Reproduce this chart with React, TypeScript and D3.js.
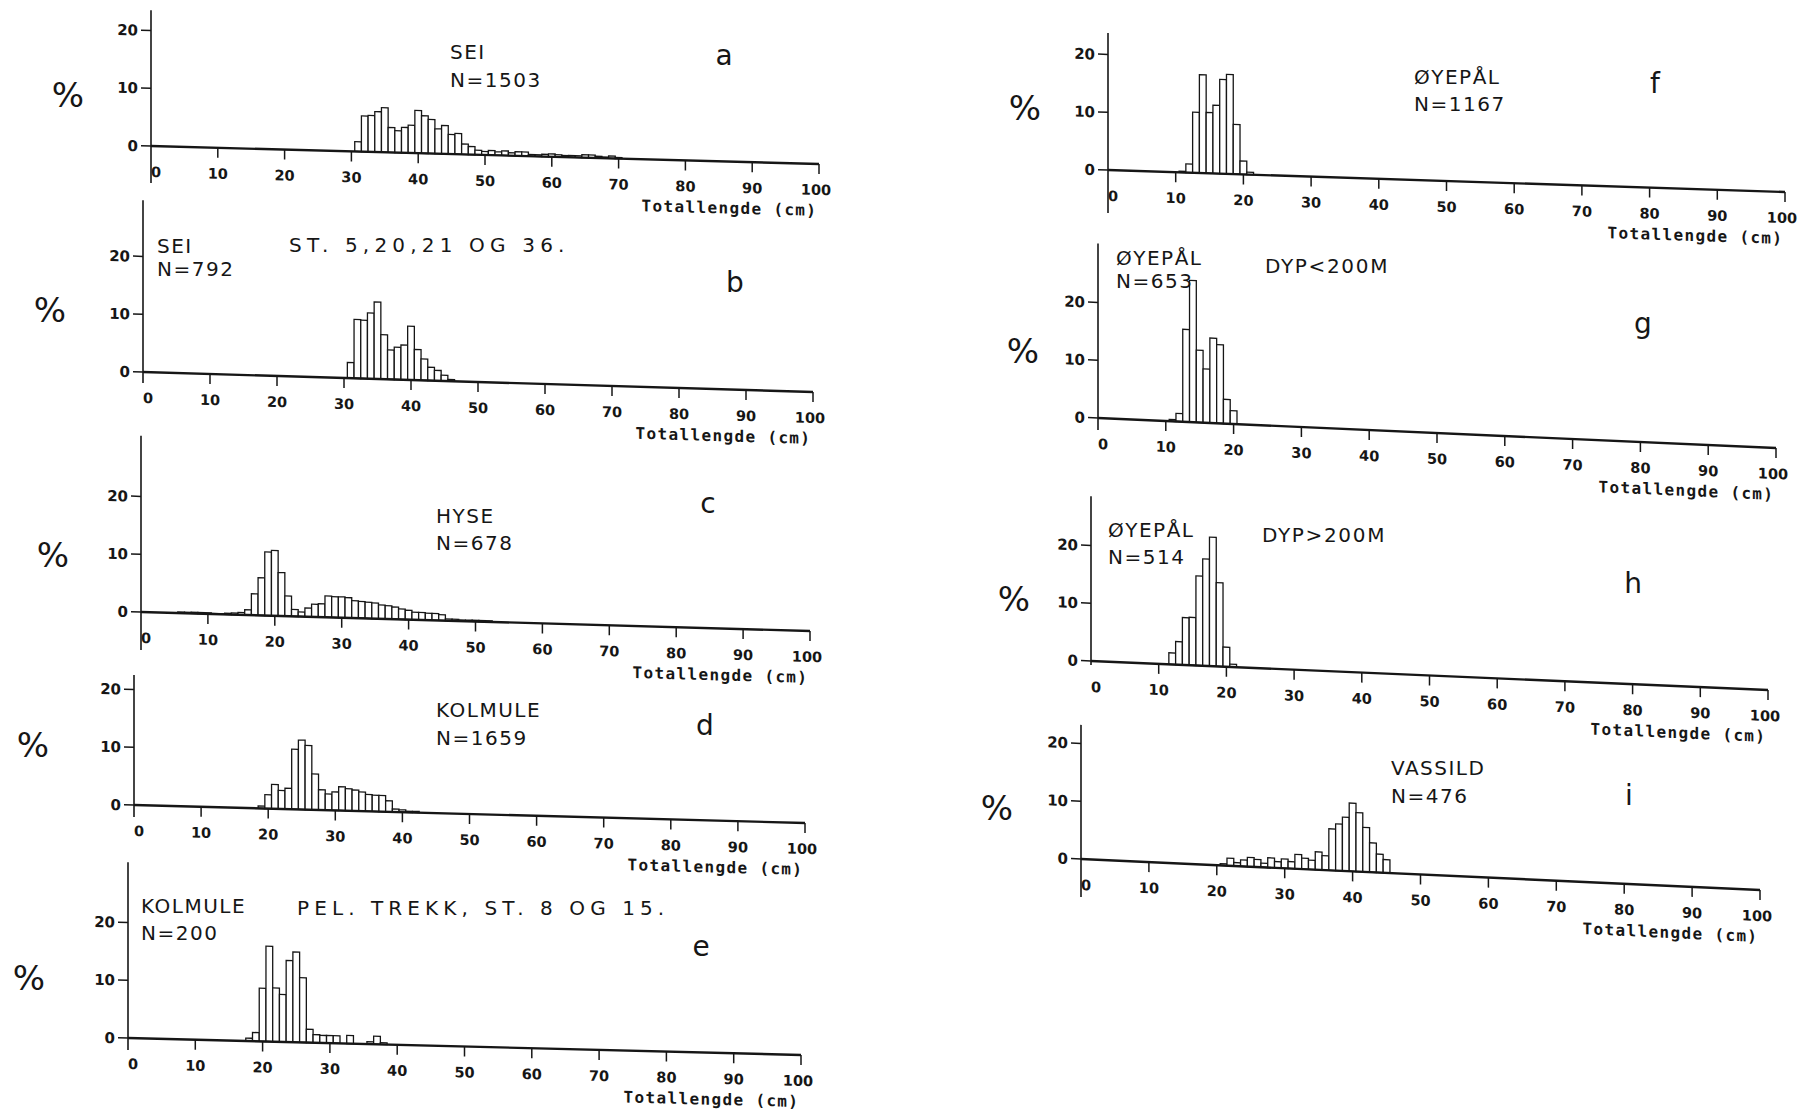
import React from 'react';
import * as d3 from 'd3';

// Length distributions: percent per 1 cm length group, first group given by *Start (cm)
const seiStart = 31;
const seiPct = [1.7, 6.2, 6.3, 7.0, 7.7, 4.3, 3.8, 4.4, 4.8, 7.4, 6.5, 5.9, 4.3, 4.9, 3.4, 3.6, 1.8, 1.4, 0.8, 0.6,
  0.8, 0.6, 0.8, 0.5, 0.7, 0.7, 0.3, 0.3, 0.4, 0.5, 0.4, 0.3, 0.3, 0.3, 0.5, 0.5, 0.3, 0.2, 0.4, 0.2];

const seiStStart = 31;
const seiStPct = [2.7, 10.2, 10.1, 11.4, 13.3, 7.7, 5.1, 5.6, 6.0, 9.3, 5.3, 3.7, 2.3, 1.8, 1.0, 0.3];

const hyseStart = 6;
const hysePct = [0.2, 0.2, 0.2, 0.2, 0.2, 0.1, 0.1, 0.2, 0.3, 0.4, 0.9, 3.7, 6.5, 11.0, 11.3, 7.5, 3.5, 1.2, 0.8, 1.5,
  2.2, 2.3, 3.7, 3.6, 3.6, 3.5, 3.0, 2.9, 2.8, 2.7, 2.4, 2.3, 2.1, 1.8, 1.6, 1.3, 1.3, 1.2, 1.2, 1.0,
  0.3, 0.3, 0.2, 0.2, 0.2, 0.2, 0.2];

const kolmuleStart = 19;
const kolmulePct = [0.4, 2.4, 4.2, 3.2, 3.6, 10.4, 12.0, 11.1, 6.2, 3.5, 2.8, 3.2, 4.1, 3.8, 3.6, 3.3, 2.9, 2.8, 2.8, 1.9,
  0.5, 0.4, 0.2, 0.2];

const kolmulePelStart = 18;
const kolmulePelPct = [0.5, 1.5, 9.2, 16.5, 9.3, 8.2, 14.1, 15.6, 11.2, 2.3, 1.4, 1.3, 1.3, 1.3, 0, 1.4, 0, 0, 0.4, 1.4, 0.3];

const oyepalStart = 11;
const oyepalPct = [0.2, 1.5, 10.5, 17.0, 10.5, 11.8, 16.3, 17.2, 8.6, 2.3, 0.4];

const oyepalShallowStart = 11;
const oyepalShallowPct = [0.3, 1.4, 16.0, 24.5, 12.5, 9.3, 14.7, 13.6, 4.2, 2.3];

const oyepalDeepStart = 12;
const oyepalDeepPct = [2.0, 4.0, 8.2, 8.3, 15.5, 18.5, 22.3, 14.5, 3.4, 0.5];

const vassildStart = 21;
const vassildPct = [0.3, 1.3, 0.6, 1.1, 1.6, 1.3, 0.7, 1.7, 1.1, 1.6, 1.2, 2.5, 1.9, 1.6, 3.1, 2.5, 7.2, 8.1, 9.3, 11.8,
  10.2, 7.7, 5.1, 3.2, 2.3];

const xTicks = [0, 10, 20, 30, 40, 50, 60, 70, 80, 90, 100];
const yTicks = [0, 10, 20];
const xTitle = 'Totallengde (cm)';

// page layout of the scanned sheet (the plotter paper ran skewed, so each x axis drops to the right)
const panels = [
  { key: 'a', start: seiStart, pct: seiPct, x0: 151, x100: 819, y0: 146, drop: 18, topPct: 23.5, below: 37,
    title: ['SEI', 'N=1503'], tx: 450, ty: [59, 87], note: '', nx: 0, ny: 0, letter: 'a', lx: 724, ly: 65, px: 68, py: 107 },
  { key: 'b', start: seiStStart, pct: seiStPct, x0: 143, x100: 813, y0: 372, drop: 20, topPct: 29.7, below: 11,
    title: ['SEI', 'N=792'], tx: 157, ty: [253, 276], note: 'ST. 5,20,21 OG 36.', nx: 289, ny: 252, letter: 'b', lx: 735, ly: 292, px: 50, py: 322 },
  { key: 'c', start: hyseStart, pct: hysePct, x0: 141, x100: 810, y0: 612, drop: 19, topPct: 30.5, below: 38,
    title: ['HYSE', 'N=678'], tx: 436, ty: [523, 550], note: '', nx: 0, ny: 0, letter: 'c', lx: 708, ly: 513, px: 53, py: 567 },
  { key: 'd', start: kolmuleStart, pct: kolmulePct, x0: 134, x100: 805, y0: 805, drop: 18, topPct: 22.5, below: 12,
    title: ['KOLMULE', 'N=1659'], tx: 436, ty: [717, 745], note: '', nx: 0, ny: 0, letter: 'd', lx: 705, ly: 735, px: 33, py: 757 },
  { key: 'e', start: kolmulePelStart, pct: kolmulePelPct, x0: 128, x100: 801, y0: 1038, drop: 17, topPct: 30.4, below: 12,
    title: ['KOLMULE', 'N=200'], tx: 141, ty: [913, 940], note: 'PEL. TREKK, ST. 8 OG 15.', nx: 297, ny: 915, letter: 'e', lx: 701, ly: 956, px: 29, py: 990 },
  { key: 'f', start: oyepalStart, pct: oyepalPct, x0: 1108, x100: 1785, y0: 170, drop: 22, topPct: 23.7, below: 43,
    title: ['ØYEPÅL', 'N=1167'], tx: 1414, ty: [84, 111], note: '', nx: 0, ny: 0, letter: 'f', lx: 1655, ly: 93, px: 1025, py: 120 },
  { key: 'g', start: oyepalShallowStart, pct: oyepalShallowPct, x0: 1098, x100: 1776, y0: 418, drop: 30, topPct: 30.2, below: 12,
    title: ['ØYEPÅL', 'N=653'], tx: 1116, ty: [265, 288], note: 'DYP<200M', nx: 1265, ny: 273, letter: 'g', lx: 1643, ly: 333, px: 1023, py: 363 },
  { key: 'h', start: oyepalDeepStart, pct: oyepalDeepPct, x0: 1091, x100: 1768, y0: 661, drop: 29, topPct: 28.5, below: 4,
    title: ['ØYEPÅL', 'N=514'], tx: 1108, ty: [537, 564], note: 'DYP>200M', nx: 1262, ny: 542, letter: 'h', lx: 1633, ly: 593, px: 1014, py: 611 },
  { key: 'i', start: vassildStart, pct: vassildPct, x0: 1081, x100: 1760, y0: 859, drop: 31, topPct: 23.2, below: 38,
    title: ['VASSILD', 'N=476'], tx: 1391, ty: [775, 803], note: '', nx: 0, ny: 0, letter: 'i', lx: 1629, ly: 805, px: 997, py: 820 },
];

const ink = '#161616';
const pxPerPct = 5.78;
const charW = 15.3;

type PanelDef = (typeof panels)[number];

const Histogram = ({ p }: { p: PanelDef }) => {
  const x = d3.scaleLinear().domain([0, 100]).range([0, p.x100 - p.x0]);
  const y = d3.scaleLinear().domain([0, 10]).range([0, -10 * pxPerPct]);
  const skew = (Math.atan(p.drop / (p.x100 - p.x0)) * 180) / Math.PI;
  const bins = p.pct.map((v, i) => ({ len: p.start + i, v })).filter((b) => b.v > 0);
  const bw = x(1) - x(0);
  // nudge the end labels so "0" clears the axis and "100" stays on the sheet
  const labelShift = (t: number) => (t === 0 ? 5 : t === 100 ? -3 : 0);

  return (
    <g>
      <g transform={`translate(${p.x0},${p.y0}) skewY(${skew})`}>
        {bins.map((b) => (
          <rect key={b.len} x={x(b.len - 0.5)} y={y(b.v)} width={bw} height={y(0) - y(b.v)}
            fill="#fff" stroke={ink} strokeWidth={1.3} />
        ))}
        <line x1={x(0)} x2={x(100)} y1={0} y2={0} stroke={ink} strokeWidth={2.4} />
        {xTicks.slice(1).map((t) => (
          <line key={t} x1={x(t)} x2={x(t)} y1={0} y2={10} stroke={ink} strokeWidth={1.5} />
        ))}
        {xTicks.map((t) => (
          <text key={t} x={x(t) + labelShift(t)} y={31} textAnchor="middle"
            fontFamily="DejaVu Sans" fontWeight="bold" fontSize={14.5} fill={ink}>{t}</text>
        ))}
        <line x1={0} x2={0} y1={y(p.topPct)} y2={p.below} stroke={ink} strokeWidth={1.6} />
        {yTicks.map((t) => (
          <g key={t}>
            <line x1={-10} x2={0} y1={y(t)} y2={y(t)} stroke={ink} strokeWidth={1.5} />
            <text x={-13} y={y(t) + 5.5} textAnchor="end" fontFamily="DejaVu Sans" fontWeight="bold"
              fontSize={15} fill={ink}>{t}</text>
          </g>
        ))}
        <text x={x(100) - 3} y={52} textAnchor="end" fontFamily="DejaVu Sans Mono" fontWeight="bold"
          fontSize={16} textLength={xTitle.length * 10.9} lengthAdjust="spacing" fill={ink}>{xTitle}</text>
      </g>
      {p.title.map((s, i) => (
        <text key={s} x={p.tx} y={p.ty[i]} fontFamily="DejaVu Sans" fontSize={20} letterSpacing={1.5}
          fill={ink}>{s}</text>
      ))}
      {p.note && (
        <text x={p.nx} y={p.ny} fontFamily="DejaVu Sans" fontSize={20}
          textLength={p.note.length * charW} lengthAdjust="spacing" fill={ink}>{p.note}</text>
      )}
      <text x={p.lx} y={p.ly} textAnchor="middle" fontFamily="DejaVu Sans" fontSize={28} fill={ink}>{p.letter}</text>
      <text x={p.px} y={p.py} textAnchor="middle" fontFamily="DejaVu Sans" fontSize={34} fill={ink}>%</text>
    </g>
  );
};

export default function App() {
  return (
    <svg width={1801} height={1111} viewBox="0 0 1801 1111"
      style={{ position: 'absolute', left: 0, top: 0, background: '#fff' }}>
      <rect width={1801} height={1111} fill="#fff" />
      {panels.map((p) => (
        <Histogram key={p.key} p={p} />
      ))}
    </svg>
  );
}
